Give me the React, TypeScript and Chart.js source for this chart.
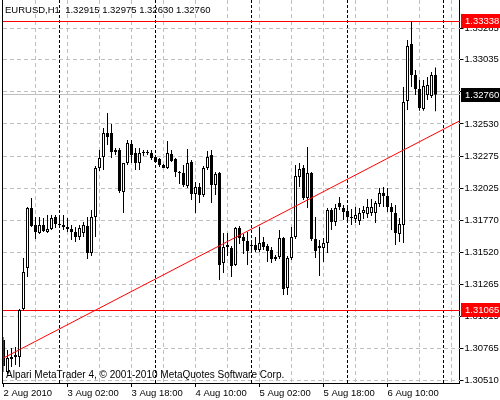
import React, { useEffect, useRef } from 'react';
import { Chart, registerables } from 'chart.js';

Chart.register(...registerables);

// ---- Data (EURUSD H1, bar 0 = 2 Aug 2010 10:00) ----
const opens = [
  1.30829, 1.30577, 1.30680, 1.30695, 1.30695, 1.31073, 1.31396, 1.31869, 1.31735, 1.31672,
  1.31735, 1.31680, 1.31703, 1.31798, 1.31743, 1.31735, 1.31719, 1.31703, 1.31680, 1.31640,
  1.31672, 1.31727, 1.31514, 1.31798, 1.32184, 1.32270, 1.32459, 1.32459, 1.32325, 1.32325,
  1.31995, 1.32223, 1.32373, 1.32302, 1.32223, 1.32302, 1.32302, 1.32302, 1.32270, 1.32254,
  1.32207, 1.32184, 1.32294, 1.32254, 1.32152, 1.32144, 1.32042, 1.32231, 1.31979, 1.32034,
  1.31971, 1.32184, 1.32286, 1.32050, 1.32144, 1.31436, 1.31577, 1.31554, 1.31420, 1.31711,
  1.31640, 1.31609, 1.31569, 1.31577, 1.31538, 1.31601, 1.31569, 1.31538, 1.31483, 1.31483,
  1.31632, 1.31239, 1.31475, 1.31640, 1.32113, 1.32184, 1.31947, 1.32144, 1.31625, 1.31554,
  1.31554, 1.31593, 1.31853, 1.31758, 1.31908, 1.31869, 1.31845, 1.31790, 1.31782, 1.31766,
  1.31829, 1.31821, 1.31829, 1.31829, 1.31900, 1.31987, 1.31963, 1.31877, 1.31829, 1.31664,
  1.31735, 1.32711, 1.33160, 1.32916, 1.32806, 1.32648, 1.32758, 1.32750, 1.32915,
];
const highs = [
  1.30853, 1.30751, 1.30766, 1.30774, 1.31073, 1.31475, 1.31877, 1.31947, 1.31798, 1.31798,
  1.31790, 1.31814, 1.31814, 1.31814, 1.31814, 1.31814, 1.31790, 1.31735, 1.31719, 1.31735,
  1.31758, 1.31798, 1.31853, 1.32199, 1.32325, 1.32499, 1.32617, 1.32530, 1.32341, 1.32341,
  1.32223, 1.32404, 1.32404, 1.32341, 1.32341, 1.32325, 1.32325, 1.32325, 1.32278, 1.32262,
  1.32215, 1.32396, 1.32325, 1.32262, 1.32160, 1.32207, 1.32333, 1.32247, 1.32073, 1.32065,
  1.32199, 1.32317, 1.32325, 1.32152, 1.32152, 1.31672, 1.31672, 1.31569, 1.31719, 1.31727,
  1.31664, 1.31680, 1.31617, 1.31640, 1.31719, 1.31640, 1.31585, 1.31562, 1.31499, 1.31695,
  1.31640, 1.31491, 1.31719, 1.32207, 1.32223, 1.32207, 1.32349, 1.32152, 1.31798, 1.31617,
  1.31632, 1.31869, 1.31869, 1.31900, 1.31955, 1.31892, 1.31877, 1.31861, 1.31877, 1.31869,
  1.31884, 1.31939, 1.31939, 1.31924, 1.32026, 1.32034, 1.32026, 1.31908, 1.31892, 1.31790,
  1.32821, 1.33191, 1.33338, 1.32955, 1.32877, 1.32877, 1.32900, 1.32939, 1.32975,
];
const lows = [
  1.30577, 1.30562, 1.30617, 1.30632, 1.30617, 1.31058, 1.31325, 1.31719, 1.31625, 1.31664,
  1.31680, 1.31672, 1.31695, 1.31711, 1.31727, 1.31695, 1.31680, 1.31617, 1.31601, 1.31617,
  1.31640, 1.31467, 1.31491, 1.31640, 1.32160, 1.32168, 1.32365, 1.32262, 1.32286, 1.31987,
  1.31829, 1.32207, 1.32223, 1.32168, 1.32168, 1.32278, 1.32286, 1.32247, 1.32223, 1.32191,
  1.32184, 1.32176, 1.32231, 1.32113, 1.32058, 1.32034, 1.32026, 1.31932, 1.31829, 1.31908,
  1.31955, 1.32168, 1.31908, 1.31971, 1.31302, 1.31357, 1.31491, 1.31325, 1.31412, 1.31585,
  1.31506, 1.31420, 1.31522, 1.31522, 1.31522, 1.31538, 1.31443, 1.31436, 1.31451, 1.31467,
  1.31184, 1.31184, 1.31459, 1.31625, 1.32034, 1.31932, 1.31869, 1.31609, 1.31475, 1.31333,
  1.31443, 1.31514, 1.31695, 1.31727, 1.31853, 1.31774, 1.31751, 1.31735, 1.31751, 1.31735,
  1.31782, 1.31790, 1.31806, 1.31751, 1.31877, 1.31877, 1.31837, 1.31695, 1.31577, 1.31601,
  1.31593, 1.32640, 1.32821, 1.32758, 1.32635, 1.32635, 1.32719, 1.32735, 1.32630,
];
const closes = [
  1.30625, 1.30688, 1.30695, 1.30711, 1.31065, 1.31365, 1.31869, 1.31727, 1.31680, 1.31735,
  1.31688, 1.31703, 1.31790, 1.31743, 1.31735, 1.31719, 1.31703, 1.31680, 1.31640, 1.31711,
  1.31735, 1.31514, 1.31798, 1.32184, 1.32262, 1.32459, 1.32428, 1.32310, 1.32310, 1.32002,
  1.32223, 1.32380, 1.32286, 1.32223, 1.32302, 1.32302, 1.32302, 1.32262, 1.32231, 1.32207,
  1.32184, 1.32302, 1.32239, 1.32152, 1.32144, 1.32050, 1.32223, 1.31979, 1.32034, 1.31971,
  1.32184, 1.32270, 1.32050, 1.32136, 1.31420, 1.31562, 1.31562, 1.31412, 1.31711, 1.31632,
  1.31609, 1.31530, 1.31569, 1.31538, 1.31593, 1.31562, 1.31530, 1.31467, 1.31467, 1.31632,
  1.31231, 1.31475, 1.31640, 1.32121, 1.32176, 1.31947, 1.32144, 1.31625, 1.31530, 1.31569,
  1.31593, 1.31853, 1.31758, 1.31869, 1.31877, 1.31837, 1.31798, 1.31790, 1.31814, 1.31829,
  1.31853, 1.31877, 1.31877, 1.31908, 1.31987, 1.31963, 1.31877, 1.31837, 1.31672, 1.31743,
  1.32703, 1.33144, 1.32916, 1.32806, 1.32656, 1.32829, 1.32837, 1.32916, 1.32760,
];

const xTickLabels = ['2 Aug 2010', '3 Aug 02:00', '3 Aug 18:00', '4 Aug 10:00', '5 Aug 02:00', '5 Aug 18:00', '6 Aug 10:00'];
const yTickValues = [1.33285, 1.33035, 1.32785, 1.32530, 1.32275, 1.32025, 1.31770, 1.31520, 1.31265, 1.31015, 1.30765, 1.30510];
const separatorBars = [14, 38, 62, 86, 110];
const highLevel = 1.33338;
const lowLevel = 1.31065;
const bidLevel = 1.32760;
const trendStart = 1.30688; // at first slot
const trendEnd = 1.32554;   // at last slot (right edge)
const titleText = 'EURUSD,H1  1.32915 1.32975 1.32630 1.32760';
const footerText = 'Alpari MetaTrader 4, \u00A9 2001-2010 MetaQuotes Software Corp.';

const SLOT_COUNT = 115;
const LABEL_EVERY = 16;
const GRID_EVERY = 8;
const FONT_FAMILY = '"Liberation Sans", Arial, sans-serif';
const FONT_SIZE = 9.5;
const GRID_GREY = '#c0c0c0';
const RED = '#ff0000';

const slots = Array.from({ length: SLOT_COUNT }, (_, i) => String(i));

function dashV(ctx: any, x: number, y0: number, y1: number, on: number, off: number) {
  for (let yy = y0; yy < y1; yy += on + off) ctx.fillRect(x, yy, 1, Math.min(on, y1 - yy));
}
function dashH(ctx: any, y: number, x0: number, x1: number, on: number, off: number) {
  for (let xx = x0; xx < x1; xx += on + off) ctx.fillRect(xx, y, Math.min(on, x1 - xx), 1);
}

const mt4Plugin = {
  id: 'mt4',
  beforeDatasetsDraw(chart: any) {
    const { ctx, chartArea: a, scales } = chart;
    const x = scales.x;
    const y = scales.y;
    const left = Math.floor(a.left);
    const right = Math.round(a.right);
    const top = Math.ceil(a.top);
    const bottom = Math.round(a.bottom);
    ctx.save();
    // grey dashed grid
    ctx.fillStyle = GRID_GREY;
    for (const v of yTickValues) {
      const py = Math.round(y.getPixelForValue(v) - 0.5);
      dashH(ctx, py, left, right, 4, 3);
    }
    for (let i = GRID_EVERY; i < SLOT_COUNT; i += GRID_EVERY) {
      const px = Math.floor(x.getPixelForValue(i));
      dashV(ctx, px, top, bottom, 4, 3);
    }
    // period separators (black dashed)
    ctx.fillStyle = '#000';
    for (const b of separatorBars) {
      const px = Math.floor(x.getPixelForValue(b));
      dashV(ctx, px, top, bottom, 3, 2);
    }
    // horizontal price lines
    const lines: [number, string][] = [[bidLevel, GRID_GREY], [highLevel, RED], [lowLevel, RED]];
    for (const [v, c] of lines) {
      const py = Math.round(y.getPixelForValue(v) - 0.5);
      ctx.fillStyle = c;
      ctx.fillRect(left - 1, py, right - left + 1, 1);
    }
    ctx.restore();
  },
  afterDraw(chart: any) {
    const { ctx, chartArea: a, scales } = chart;
    const y = scales.y;
    ctx.save();
    // left border
    ctx.fillStyle = '#000';
    ctx.fillRect(2, 0, 1, Math.round(a.bottom) + 1);
    // price boxes
    ctx.font = `${FONT_SIZE}px ${FONT_FAMILY}`;
    ctx.textBaseline = 'middle';
    ctx.textAlign = 'left';
    const boxes: [number, string][] = [[highLevel, RED], [bidLevel, '#000'], [lowLevel, RED]];
    for (const [v, c] of boxes) {
      const py = Math.round(y.getPixelForValue(v));
      ctx.fillStyle = c;
      ctx.fillRect(Math.round(a.right) + 1, py - 7, 40, 14);
      ctx.fillStyle = '#fff';
      ctx.fillText(v.toFixed(5), Math.round(a.right) + 5, py + 0.5);
    }
    // texts
    ctx.fillStyle = '#000';
    ctx.font = `${FONT_SIZE}px ${FONT_FAMILY}`;
    ctx.fillText(titleText, 5, 10);
    ctx.font = `10px ${FONT_FAMILY}`;
    ctx.fillText(footerText, 6, 375);
    ctx.restore();
  },
};

export default function App() {
  const ref = useRef<HTMLCanvasElement>(null);
  useEffect(() => {
    if (!ref.current) return;
    const bodyData = opens.map((o, i) => [o, closes[i]]);
    const wickData = lows.map((l, i) => [l, highs[i]]);
    const bodyColors = opens.map((o, i) => (closes[i] >= o ? '#ffffff' : '#000000'));
    const trendData = slots.map((_, i) => (i === 0 ? trendStart : i === SLOT_COUNT - 1 ? trendEnd : null));

    const chart = new Chart(ref.current, {
      type: 'bar',
      data: {
        labels: slots,
        datasets: [
          {
            type: 'line',
            label: 'trend',
            data: trendData as any,
            borderColor: RED,
            borderWidth: 1,
            pointRadius: 0,
            spanGaps: true,
            order: 0,
          } as any,
          {
            label: 'body',
            data: bodyData as any,
            backgroundColor: bodyColors,
            borderColor: '#000',
            borderWidth: 1,
            borderSkipped: false,
            barThickness: 3,
            minBarLength: 1,
            grouped: false,
            inflateAmount: 0,
            order: 1,
          } as any,
          {
            label: 'wick',
            data: wickData as any,
            backgroundColor: '#000',
            borderWidth: 0,
            barThickness: 1,
            grouped: false,
            inflateAmount: 0,
            order: 2,
          } as any,
        ],
      },
      options: {
        responsive: false,
        animation: false,
        events: [],
        layout: { padding: { left: 3.5, top: 0, right: 0, bottom: 0 } },
        plugins: { legend: { display: false }, tooltip: { enabled: false }, title: { display: false } },
        scales: {
          x: {
            type: 'category',
            offset: false,
            afterFit: (s: any) => { s.height = 17; s.paddingLeft = 0; s.paddingRight = 0; },
            grid: {
              offset: false,
              drawOnChartArea: false,
              color: 'rgba(0,0,0,0)',
              tickColor: (c: any) => (c.index % LABEL_EVERY === 0 && c.index / LABEL_EVERY < xTickLabels.length ? '#000' : 'rgba(0,0,0,0)'),
              tickLength: 4,
              tickBorderDash: [],
              lineWidth: 1,
            },
            border: { color: '#000', width: 1 },
            ticks: {
              autoSkip: false,
              maxRotation: 0,
              minRotation: 0,
              align: 'start',
              padding: 1,
              color: '#000',
              font: { family: FONT_FAMILY, size: FONT_SIZE },
              callback: (_v: any, index: number) =>
                index % LABEL_EVERY === 0 ? xTickLabels[index / LABEL_EVERY] ?? '' : '',
            },
          },
          y: {
            type: 'linear',
            position: 'right',
            min: 1.30491,
            max: 1.33506,
            afterFit: (s: any) => { s.width = 40.5; s.paddingTop = 0; s.paddingBottom = 0; },
            afterBuildTicks: (s: any) => { s.ticks = yTickValues.map((v) => ({ value: v })); },
            grid: { drawOnChartArea: false, color: 'rgba(0,0,0,0)', tickColor: '#000', tickLength: 4, tickBorderDash: [], lineWidth: 1 },
            border: { color: '#000', width: 1 },
            ticks: {
              autoSkip: false,
              padding: 1,
              crossAlign: 'near',
              color: '#000',
              font: { family: FONT_FAMILY, size: FONT_SIZE },
              callback: (v: any) => Number(v).toFixed(5),
            },
          },
        },
      } as any,
      plugins: [mt4Plugin],
    });
    return () => chart.destroy();
  }, []);

  return (
    <div style={{ position: 'fixed', left: 0, top: 0, width: 500, height: 400, background: '#fff' }}>
      <canvas ref={ref} width={500} height={400} style={{ display: 'block', width: 500, height: 400 }} />
    </div>
  );
}
